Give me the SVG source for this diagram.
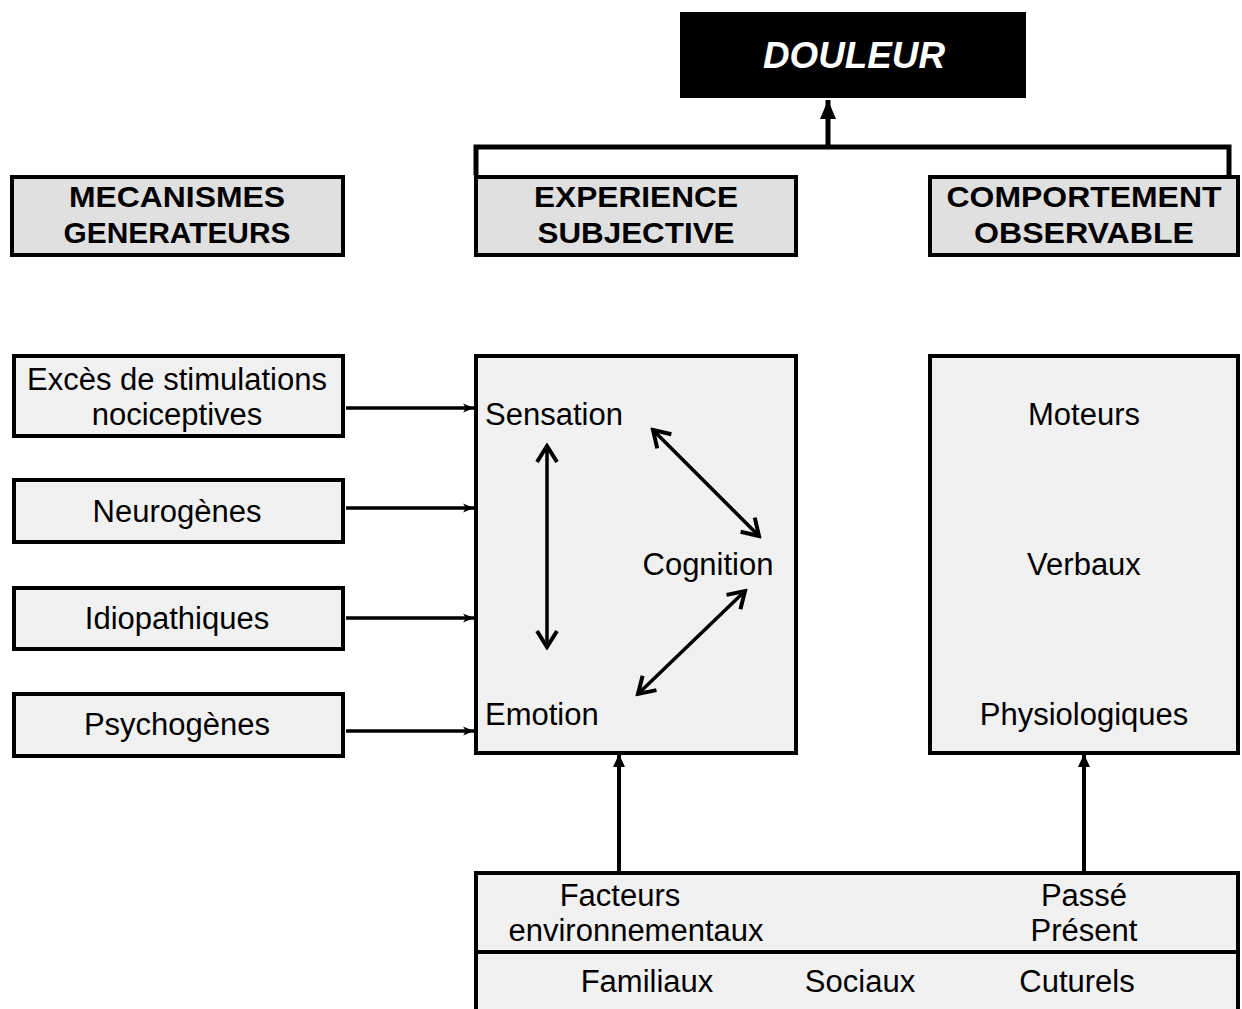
<svg xmlns="http://www.w3.org/2000/svg" width="1242" height="1009" viewBox="0 0 1242 1009">
<defs>
<style>
.hdr{fill:#e0e0e0;stroke:#000;stroke-width:4}
.box{fill:#f1f1f1;stroke:#000;stroke-width:4}
.ht{font-family:"Liberation Sans",Arial,sans-serif;font-weight:bold;font-size:30px;text-anchor:middle;fill:#000}
.t{font-family:"Liberation Sans",Arial,sans-serif;font-size:31px;fill:#000}
.c{text-anchor:middle}
.ln{stroke:#000;stroke-width:3.5;fill:none}
</style>
<marker id="ah" markerWidth="12" markerHeight="10" refX="11" refY="5" orient="auto" markerUnits="userSpaceOnUse">
<path d="M0,0.5 L11,5 L0,9.5 L3,5 z" fill="#000"/>
</marker>
<marker id="chev" markerWidth="22" markerHeight="24" refX="19" refY="12" orient="auto-start-reverse" markerUnits="userSpaceOnUse">
<path d="M3,2 L19,12 L3,22" fill="none" stroke="#000" stroke-width="4"/>
</marker>
<marker id="up" markerWidth="12" markerHeight="14" refX="12" refY="6" orient="auto" markerUnits="userSpaceOnUse">
<path d="M0,0 L13,6 L0,12 z" fill="#000"/>
</marker>
<marker id="big" markerWidth="20" markerHeight="18" refX="19" refY="8" orient="auto" markerUnits="userSpaceOnUse">
<path d="M0,0 L19,8 L0,16 z" fill="#000"/>
</marker>
</defs>
<rect width="1242" height="1009" fill="#fff"/>

<g id="douleur">
<rect x="680" y="12" width="346" height="86" fill="#000"/>
<text x="854" y="68" font-family="Liberation Sans,Arial,sans-serif" font-weight="bold" font-style="italic" font-size="37" fill="#fff" text-anchor="middle" textLength="182" lengthAdjust="spacingAndGlyphs">DOULEUR</text>
</g>

<g id="mecanismes">
<rect class="hdr" x="12" y="177" width="331" height="78"/>
<text class="ht" x="177" y="207" textLength="216" lengthAdjust="spacingAndGlyphs">MECANISMES</text>
<text class="ht" x="177" y="243" textLength="227" lengthAdjust="spacingAndGlyphs">GENERATEURS</text>
</g>
<g id="experience">
<rect class="hdr" x="476" y="177" width="320" height="78"/>
<text class="ht" x="636" y="207" textLength="204" lengthAdjust="spacingAndGlyphs">EXPERIENCE</text>
<text class="ht" x="636" y="243" textLength="197" lengthAdjust="spacingAndGlyphs">SUBJECTIVE</text>
</g>
<g id="comportement">
<rect class="hdr" x="930" y="177" width="308" height="78"/>
<text class="ht" x="1084" y="207" textLength="275" lengthAdjust="spacingAndGlyphs">COMPORTEMENT</text>
<text class="ht" x="1084" y="243" textLength="220" lengthAdjust="spacingAndGlyphs">OBSERVABLE</text>
</g>

<g id="exces">
<rect class="box" x="14" y="356" width="329" height="80"/>
<text class="t c" x="177" y="390">Excès de stimulations</text>
<text class="t c" x="177" y="425">nociceptives</text>
</g>
<g id="neurogenes">
<rect class="box" x="14" y="480" width="329" height="62"/>
<text class="t c" x="177" y="522">Neurogènes</text>
</g>
<g id="idiopathiques">
<rect class="box" x="14" y="588" width="329" height="61"/>
<text class="t c" x="177" y="629">Idiopathiques</text>
</g>
<g id="psychogenes">
<rect class="box" x="14" y="694" width="329" height="62"/>
<text class="t c" x="177" y="735">Psychogènes</text>
</g>

<g id="subjective">
<rect class="box" x="476" y="356" width="320" height="397"/>
<text class="t" x="485" y="425">Sensation</text>
<text class="t c" x="708" y="575">Cognition</text>
<text class="t" x="485" y="725">Emotion</text>
</g>

<g id="observable">
<rect class="box" x="930" y="356" width="308" height="397"/>
<text class="t c" x="1084" y="425">Moteurs</text>
<text class="t c" x="1084" y="575">Verbaux</text>
<text class="t c" x="1084" y="725">Physiologiques</text>
</g>

<g id="facteurs">
<path d="M476,1012 L476,873 L1238,873 L1238,1012" fill="#f1f1f1" stroke="#000" stroke-width="4"/>
<line x1="476" y1="952" x2="1238" y2="952" stroke="#000" stroke-width="4"/>
<text class="t c" x="620" y="906">Facteurs</text>
<text class="t c" x="636" y="941">environnementaux</text>
<text class="t c" x="1084" y="906">Passé</text>
<text class="t c" x="1084" y="941">Présent</text>
<text class="t c" x="647" y="992">Familiaux</text>
<text class="t c" x="860" y="992">Sociaux</text>
<text class="t c" x="1077" y="992">Cuturels</text>
</g>

<g id="connectors">
<path d="M476,175 L476,147 L1229,147 L1229,175" fill="none" stroke="#000" stroke-width="5"/>
<line x1="828" y1="147" x2="828" y2="100" stroke="#000" stroke-width="5" marker-end="url(#big)"/>
<line class="ln" x1="346" y1="408" x2="474" y2="408" marker-end="url(#ah)"/>
<line class="ln" x1="346" y1="508" x2="474" y2="508" marker-end="url(#ah)"/>
<line class="ln" x1="346" y1="618" x2="474" y2="618" marker-end="url(#ah)"/>
<line class="ln" x1="346" y1="731" x2="474" y2="731" marker-end="url(#ah)"/>
<line class="ln" x1="547" y1="446" x2="547" y2="647" marker-start="url(#chev)" marker-end="url(#chev)"/>
<line class="ln" x1="653" y1="430" x2="759" y2="536" marker-start="url(#chev)" marker-end="url(#chev)"/>
<line class="ln" x1="745" y1="591" x2="638" y2="694" marker-start="url(#chev)" marker-end="url(#chev)"/>
<line x1="619" y1="872" x2="619" y2="755" stroke="#000" stroke-width="4" marker-end="url(#up)"/>
<line x1="1084" y1="872" x2="1084" y2="755" stroke="#000" stroke-width="4" marker-end="url(#up)"/>
</g>
</svg>
